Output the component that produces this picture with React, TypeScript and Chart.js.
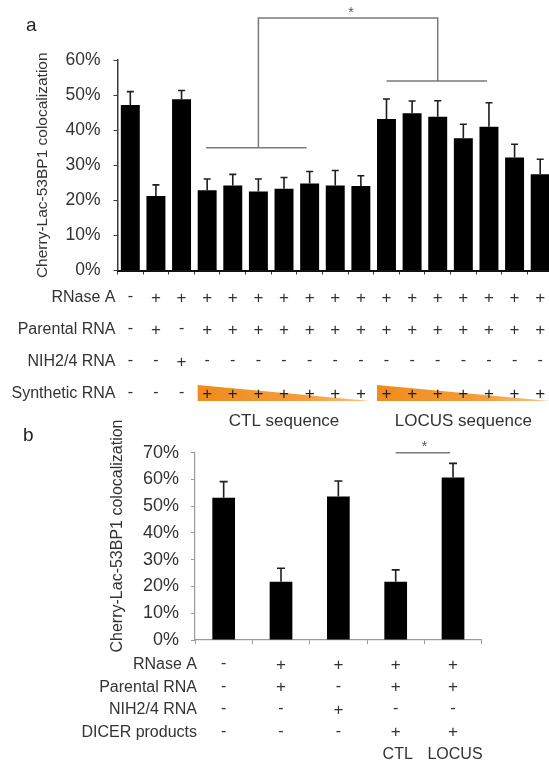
import React, { useEffect, useRef } from 'react';
import { Chart, registerables } from 'chart.js';

Chart.register(...registerables);

const FONT = '"Liberation Sans", Arial, Helvetica, sans-serif';
const TEXT = '#333333';

// ---------- Panel a data ----------
const aCategories = ['1', '2', '3', '4', '5', '6', '7', '8', '9', '10', '11', '12', '13', '14', '15', '16', '17'];
const aValues = [47.2, 21.2, 48.8, 22.9, 24.2, 22.5, 23.3, 24.8, 24.2, 24.1, 43.2, 44.8, 43.8, 37.7, 41.0, 32.2, 27.4];
const aErrors = [3.8, 3.2, 2.5, 3.2, 3.2, 3.6, 3.2, 3.4, 4.3, 2.9, 5.7, 3.5, 4.6, 4.0, 6.8, 3.8, 4.3];
const aTicks = [0, 10, 20, 30, 40, 50, 60];
const aRowLabels = ['RNase A', 'Parental RNA', 'NIH2/4 RNA', 'Synthetic RNA'];
const aRNaseA = ['-', '+', '+', '+', '+', '+', '+', '+', '+', '+', '+', '+', '+', '+', '+', '+', '+'];
const aParental = ['-', '+', '-', '+', '+', '+', '+', '+', '+', '+', '+', '+', '+', '+', '+', '+', '+'];
const aNIH = ['-', '-', '+', '-', '-', '-', '-', '-', '-', '-', '-', '-', '-', '-', '-', '-', '-'];
const aSynthetic = ['-', '-', '-', '+', '+', '+', '+', '+', '+', '+', '+', '+', '+', '+', '+', '+', '+'];
const aGroupLabels = ['CTL sequence', 'LOCUS sequence'];
const aGroupSpans = [[3, 9], [10, 16]];
const aBracketLeft = [3, 7];
const aBracketRight = [10, 14];
const aBracketLevels = [35, 54, 72];
const aYTitle = 'Cherry-Lac-53BP1 colocalization';

// ---------- Panel b data ----------
const bCategories = ['1', '2', '3', '4', '5'];
const bValues = [53.2, 21.8, 53.6, 21.8, 60.7];
const bErrors = [6.0, 5.0, 5.8, 4.4, 5.3];
const bTicks = [0, 10, 20, 30, 40, 50, 60, 70];
const bRowLabels = ['RNase A', 'Parental RNA', 'NIH2/4 RNA', 'DICER products'];
const bRNaseA = ['-', '+', '+', '+', '+'];
const bParental = ['-', '+', '-', '+', '+'];
const bNIH = ['-', '-', '+', '-', '-'];
const bDicer = ['-', '-', '-', '+', '+'];
const bProductLabels = ['', '', '', 'CTL', 'LOCUS'];
const bSigPair = [3, 4];
const bSigLevel = 70;
const bYTitle = 'Cherry-Lac-53BP1 colocalization';

const B_TOP = 405;

function drawErrorBars(chart: any, values: number[], errors: number[], cap: number) {
  const ctx = chart.ctx;
  const xs = chart.scales.x;
  const ys = chart.scales.y;
  ctx.save();
  ctx.strokeStyle = '#1e1e1e';
  ctx.lineWidth = 1.6;
  values.forEach((v, i) => {
    const px = xs.getPixelForValue(i);
    const y0 = ys.getPixelForValue(v);
    const y1 = ys.getPixelForValue(v + errors[i]);
    ctx.beginPath();
    ctx.moveTo(px, y0);
    ctx.lineTo(px, y1);
    ctx.moveTo(px - cap, y1);
    ctx.lineTo(px + cap, y1);
    ctx.stroke();
  });
  ctx.restore();
}

function drawRotatedTitle(ctx: any, text: string, x: number, y: number, size: number) {
  ctx.save();
  ctx.translate(x, y);
  ctx.rotate(-Math.PI / 2);
  ctx.fillStyle = TEXT;
  ctx.font = `${size}px ${FONT}`;
  ctx.textAlign = 'center';
  ctx.textBaseline = 'middle';
  ctx.fillText(text, 0, 0);
  ctx.restore();
}

const panelAPlugin = {
  id: 'panelA',
  afterDatasetsDraw(chart: any) {
    drawErrorBars(chart, aValues, aErrors, 3.5);
  },
  afterDraw(chart: any) {
    const ctx = chart.ctx;
    const xs = chart.scales.x;
    const ys = chart.scales.y;
    const meta = chart.getDatasetMeta(0);
    const half = (meta.data[0] as any).width / 2;
    ctx.save();

    // significance bracket
    ctx.strokeStyle = '#7a7a7a';
    ctx.lineWidth = 1.5;
    const lowL = ys.getPixelForValue(aBracketLevels[0]);
    const lowR = ys.getPixelForValue(aBracketLevels[1]);
    const top = ys.getPixelForValue(aBracketLevels[2]);
    const midL = (xs.getPixelForValue(aBracketLeft[0]) + xs.getPixelForValue(aBracketLeft[1])) / 2;
    const midR = (xs.getPixelForValue(aBracketRight[0]) + xs.getPixelForValue(aBracketRight[1])) / 2;
    ctx.beginPath();
    ctx.moveTo(xs.getPixelForValue(aBracketLeft[0]) - 1, lowL);
    ctx.lineTo(xs.getPixelForValue(aBracketLeft[1]) - 3, lowL);
    ctx.moveTo(midL, lowL);
    ctx.lineTo(midL, top);
    ctx.lineTo(midR, top);
    ctx.lineTo(midR, lowR);
    ctx.moveTo(xs.getPixelForValue(aBracketRight[0]), lowR);
    ctx.lineTo(xs.getPixelForValue(aBracketRight[1]) - 2, lowR);
    ctx.stroke();
    ctx.fillStyle = '#555';
    ctx.font = `14px ${FONT}`;
    ctx.textAlign = 'center';
    ctx.textBaseline = 'middle';
    ctx.fillText('*', (midL + midR) / 2 + 3, top - 5);

    // triangles
    aGroupSpans.forEach(([s, e]) => {
      const x0 = xs.getPixelForValue(s) - half;
      const x1 = xs.getPixelForValue(e) + half;
      const yTop = 385;
      const yBot = 401;
      const g = ctx.createLinearGradient(x0, 0, x1, 0);
      g.addColorStop(0, '#F08A1E');
      g.addColorStop(0.6, '#F49E3A');
      g.addColorStop(1, '#F9C27E');
      ctx.fillStyle = g;
      ctx.beginPath();
      ctx.moveTo(x0, yTop);
      ctx.lineTo(x1, yBot);
      ctx.lineTo(x0, yBot);
      ctx.closePath();
      ctx.fill();
    });

    // table
    const rows = [aRNaseA, aParental, aNIH, aSynthetic];
    const rowY = [298, 330, 362, 394];
    ctx.textBaseline = 'middle';
    rows.forEach((row, r) => {
      ctx.font = `16px ${FONT}`;
      ctx.textAlign = 'right';
      ctx.fillStyle = TEXT;
      ctx.fillText(aRowLabels[r], 115.5, rowY[r]);
      ctx.textAlign = 'center';
      row.forEach((sym, i) => {
        const px = xs.getPixelForValue(i);
        ctx.fillStyle = r === 3 && sym === '+' ? '#222' : TEXT;
        ctx.font = `${sym === '+' ? 17 : 16}px ${FONT}`;
        ctx.fillText(sym, px, rowY[r] + (sym === '-' ? -1 : 0));
      });
    });

    // group labels
    ctx.font = `17px ${FONT}`;
    ctx.fillStyle = TEXT;
    ctx.textAlign = 'center';
    aGroupSpans.forEach(([s, e], k) => {
      const c = (xs.getPixelForValue(s) + xs.getPixelForValue(e)) / 2;
      ctx.fillText(aGroupLabels[k], c, 421);
    });

    // y title and panel letter
    drawRotatedTitle(ctx, aYTitle, 43, (chart.chartArea.top + chart.chartArea.bottom) / 2, 15.5);
    ctx.font = `19px ${FONT}`;
    ctx.fillStyle = '#222';
    ctx.textAlign = 'left';
    ctx.fillText('a', 26, 26);
    ctx.restore();
  },
};

const panelBPlugin = {
  id: 'panelB',
  afterDatasetsDraw(chart: any) {
    drawErrorBars(chart, bValues, bErrors, 4);
  },
  afterDraw(chart: any) {
    const ctx = chart.ctx;
    const xs = chart.scales.x;
    const ys = chart.scales.y;
    ctx.save();

    // significance line
    const yl = ys.getPixelForValue(bSigLevel);
    const x0 = xs.getPixelForValue(bSigPair[0]);
    const x1 = xs.getPixelForValue(bSigPair[1]);
    ctx.strokeStyle = '#7a7a7a';
    ctx.lineWidth = 1.5;
    ctx.beginPath();
    ctx.moveTo(x0, yl);
    ctx.lineTo(x1 - 3, yl);
    ctx.stroke();
    ctx.fillStyle = '#555';
    ctx.font = `14px ${FONT}`;
    ctx.textAlign = 'center';
    ctx.textBaseline = 'middle';
    ctx.fillText('*', (x0 + x1) / 2, yl - 6);

    // table
    const rows = [bRNaseA, bParental, bNIH, bDicer];
    const rowY = [665 - B_TOP, 687.5 - B_TOP, 710 - B_TOP, 732.5 - B_TOP];
    rows.forEach((row, r) => {
      ctx.font = `16px ${FONT}`;
      ctx.textAlign = 'right';
      ctx.fillStyle = TEXT;
      ctx.fillText(bRowLabels[r], 197, rowY[r]);
      ctx.textAlign = 'center';
      row.forEach((sym, i) => {
        const px = xs.getPixelForValue(i);
        ctx.font = `${sym === '+' ? 17 : 16}px ${FONT}`;
        ctx.fillText(sym, px, rowY[r] + (sym === '-' ? -1 : 0));
      });
    });
    ctx.font = `16px ${FONT}`;
    ctx.textAlign = 'center';
    bProductLabels.forEach((lab, i) => {
      if (!lab) return;
      ctx.fillText(lab, xs.getPixelForValue(i) + 2, 755 - B_TOP);
    });

    drawRotatedTitle(ctx, bYTitle, 118, 536 - B_TOP, 16);
    ctx.font = `19px ${FONT}`;
    ctx.fillStyle = '#222';
    ctx.textAlign = 'left';
    ctx.textBaseline = 'middle';
    ctx.fillText('b', 23, 436 - B_TOP);
    ctx.restore();
  },
};

function makeOptions(opts: {
  max: number;
  ticks: number[];
  yWidth: number;
  xHeight: number;
  padding: any;
  axisColor: string;
  xAxisColor: string;
  xAxisWidth: number;
  yAxisWidth: number;
  barPct: number;
  labelPad: number;
  fontSize: number;
}) {
  return {
    responsive: false,
    animation: false as const,
    events: [],
    layout: { padding: opts.padding },
    plugins: { legend: { display: false }, tooltip: { enabled: false }, title: { display: false } },
    datasets: { bar: { categoryPercentage: 1, barPercentage: opts.barPct } },
    scales: {
      x: {
        type: 'category' as const,
        offset: true,
        grid: { display: true, drawOnChartArea: false, drawTicks: true, tickLength: 4, color: opts.axisColor, offset: true },
        border: { display: true, color: opts.xAxisColor, width: opts.xAxisWidth },
        ticks: { display: false },
        afterFit: (s: any) => { s.height = opts.xHeight; },
      },
      y: {
        min: 0,
        max: opts.max,
        grid: { display: true, drawOnChartArea: false, drawTicks: true, tickLength: 4, color: opts.axisColor },
        border: { display: true, color: opts.axisColor, width: opts.yAxisWidth },
        afterBuildTicks: (s: any) => { s.ticks = opts.ticks.map((v) => ({ value: v })); },
        ticks: {
          padding: opts.labelPad,
          color: TEXT,
          font: { family: FONT, size: opts.fontSize },
          callback: (v: any) => `${v}%`,
        },
        afterFit: (s: any) => { s.width = opts.yWidth; },
      },
    },
  };
}

export default function App() {
  const refA = useRef<HTMLCanvasElement | null>(null);
  const refB = useRef<HTMLCanvasElement | null>(null);

  useEffect(() => {
    const chartA = new Chart(refA.current as HTMLCanvasElement, {
      type: 'bar',
      data: {
        labels: aCategories,
        datasets: [{ data: aValues, backgroundColor: '#000000', borderWidth: 0 }],
      },
      options: makeOptions({
        max: 60,
        ticks: aTicks,
        yWidth: 117.5,
        xHeight: 430 - 270.5,
        padding: { left: 0, right: 0, top: 60, bottom: 0 },
        axisColor: '#3a3a3a',
        xAxisColor: '#111111',
        xAxisWidth: 2,
        yAxisWidth: 1.5,
        barPct: 0.74,
        labelPad: 13,
        fontSize: 17.5,
      }) as any,
      plugins: [panelAPlugin],
    });
    const bHeight = 764 - B_TOP;
    const chartB = new Chart(refB.current as HTMLCanvasElement, {
      type: 'bar',
      data: {
        labels: bCategories,
        datasets: [{ data: bValues, backgroundColor: '#000000', borderWidth: 0 }],
      },
      options: makeOptions({
        max: 70,
        ticks: bTicks,
        yWidth: 195,
        xHeight: bHeight - (640 - B_TOP),
        padding: { left: 0, right: 549 - 481.7, top: 452.7 - B_TOP, bottom: 0 },
        axisColor: '#9a9a9a',
        xAxisColor: '#9a9a9a',
        xAxisWidth: 1.2,
        yAxisWidth: 1.2,
        barPct: 0.396,
        labelPad: 12,
        fontSize: 18,
      }) as any,
      plugins: [panelBPlugin],
    });
    return () => {
      chartA.destroy();
      chartB.destroy();
    };
  }, []);

  return (
    <div style={{ position: 'fixed', left: 0, top: 0, width: 549, height: 764, overflow: 'hidden', background: '#ffffff' }}>
      <canvas ref={refA} width={553} height={430} style={{ position: 'absolute', left: 0, top: 0, width: 553, height: 430 }} />
      <canvas ref={refB} width={549} height={764 - B_TOP} style={{ position: 'absolute', left: 0, top: B_TOP, width: 549, height: 764 - B_TOP }} />
    </div>
  );
}
